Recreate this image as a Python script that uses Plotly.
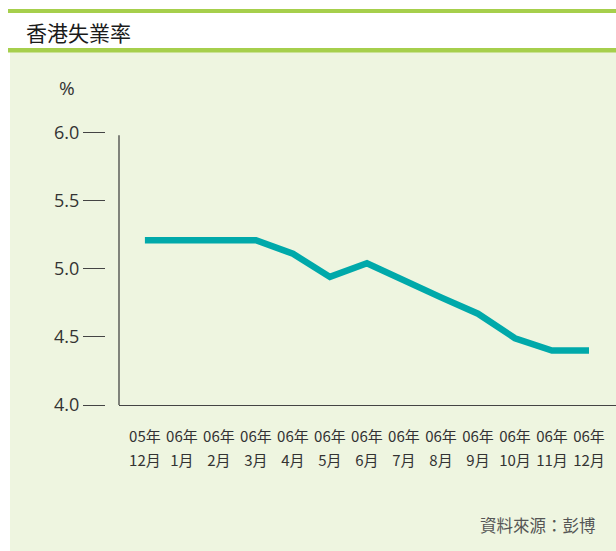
import plotly.graph_objects as go

# ---- data ----
years = ["05年", "06年", "06年", "06年", "06年", "06年", "06年",
         "06年", "06年", "06年", "06年", "06年", "06年"]
months = ["12月", "1月", "2月", "3月", "4月", "5月", "6月",
          "7月", "8月", "9月", "10月", "11月", "12月"]
rates = [5.21, 5.21, 5.21, 5.21, 5.11, 4.94, 5.04,
         4.91, 4.79, 4.67, 4.49, 4.40, 4.40]
y_ticks = [4.0, 4.5, 5.0, 5.5, 6.0]
y_tick_text = ["4.0", "4.5", "5.0", "5.5", "6.0"]

W, H = 616, 551
idx = list(range(len(rates)))

FONT = "Open Sans, Noto Sans CJK TC, sans-serif"
CJK = "Noto Sans CJK TC, sans-serif"
GREEN = "#a6cf4c"
BG = "#eef5e0"
TEAL = "#00a9aa"
AX = "#444444"

def px(x):
    return x / W

def py(y):
    return 1 - y / H

fig = go.Figure()
fig.add_trace(go.Scatter(
    x=idx, y=rates, mode="lines",
    line=dict(color=TEAL, width=6.5),
    hoverinfo="skip", showlegend=False,
))
# helper (empty) trace to attach the month label axis
fig.add_trace(go.Scatter(x=[], y=[], xaxis="x2", yaxis="y", showlegend=False, hoverinfo="skip"))

x_range = [-0.70, 12.73]

fig.update_layout(
    template="none",
    width=W, height=H,
    margin=dict(l=0, r=0, t=0, b=0, pad=0),
    paper_bgcolor="white",
    plot_bgcolor="rgba(0,0,0,0)",
    font=dict(family=FONT, color=AX),
    xaxis=dict(
        domain=[px(119), 1], range=x_range, anchor="y", automargin=False,
        tickmode="array", tickvals=idx, ticktext=years,
        showgrid=False, zeroline=False,
        showline=True, linecolor=AX, linewidth=1.3,
        ticks="", tickfont=dict(family=CJK, size=15, color="#333333"),
        ticklabelstandoff=18,
    ),
    xaxis2=dict(
        overlaying="x", anchor="y", side="bottom", range=x_range, automargin=False,
        tickmode="array", tickvals=idx, ticktext=months,
        showgrid=False, zeroline=False, showline=False,
        ticks="", tickfont=dict(family=CJK, size=15, color="#333333"),
        ticklabelstandoff=45,
    ),
    yaxis=dict(
        domain=[py(405), py(132.5)], range=[4.0, 6.0], automargin=False,
        anchor="free", position=px(105),
        tickmode="array", tickvals=y_ticks, ticktext=y_tick_text,
        ticks="outside", ticklen=22, tickwidth=1.2, tickcolor=AX,
        showgrid=False, zeroline=False, showline=False,
        tickfont=dict(family=FONT, size=18, color="#333333"),
    ),
)

shapes = [
    # light green panel
    dict(type="rect", xref="paper", yref="paper", x0=px(10), x1=1, y0=0, y1=py(51),
         fillcolor=BG, line=dict(width=0), layer="below"),
    # top green bar
    dict(type="rect", xref="paper", yref="paper", x0=px(8), x1=1, y0=py(13), y1=py(9),
         fillcolor=GREEN, line=dict(width=0), layer="below"),
    # second green bar
    dict(type="rect", xref="paper", yref="paper", x0=px(8), x1=1, y0=py(52.5), y1=py(48),
         fillcolor=GREEN, line=dict(width=0), layer="below"),
    # vertical axis line
    dict(type="line", xref="x domain", yref="y", x0=0, x1=0, y0=4.0, y1=5.98,
         line=dict(color=AX, width=1.3)),
]
fig.update_layout(shapes=shapes)

fig.add_annotation(text="香港失業率", xref="paper", yref="paper",
                   x=px(24), y=py(32), xanchor="left", yanchor="middle",
                   showarrow=False, font=dict(family=CJK, size=21, color="#1a1a1a"))
fig.add_annotation(text="%", xref="paper", yref="paper",
                   x=px(67), y=py(88), xanchor="center", yanchor="middle",
                   showarrow=False, font=dict(family=FONT, size=19, color="#333333"))
fig.add_annotation(text="資料來源：彭博", xref="paper", yref="paper",
                   x=px(598), y=py(525), xanchor="right", yanchor="middle",
                   showarrow=False, font=dict(family=CJK, size=16.5, color="#555555"))

fig.write_html("out.html", config={"displayModeBar": False},
               post_script="document.body.style.margin='0';document.body.style.overflow='hidden';")
